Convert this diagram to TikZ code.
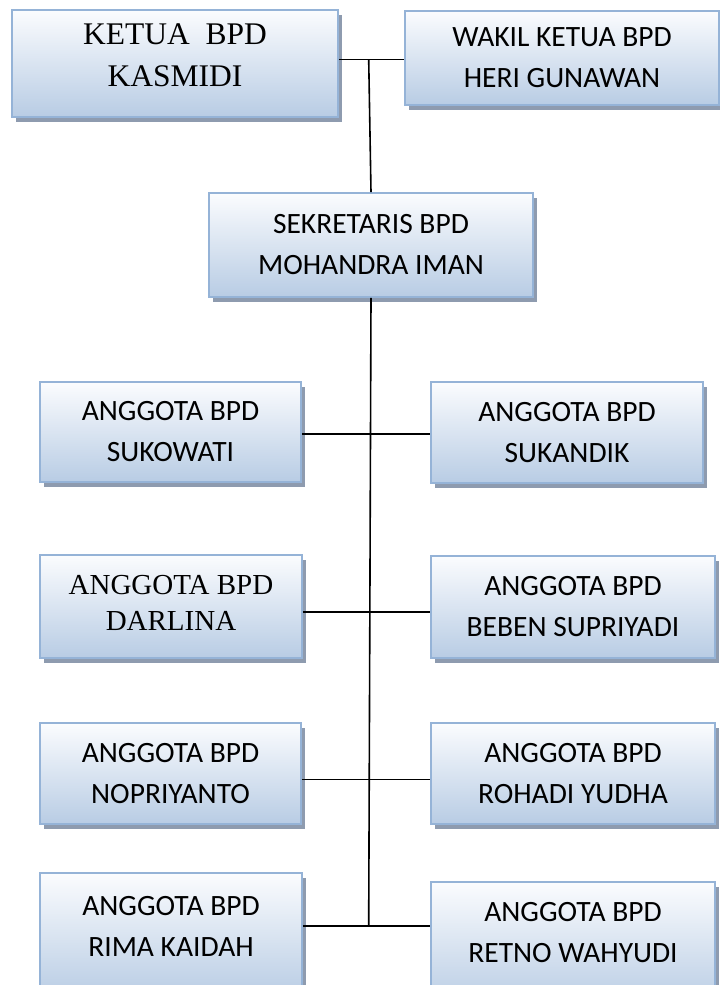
\documentclass[tikz,border=0pt]{standalone}
\usepackage{fontspec}
\usetikzlibrary{shadows}
\newfontfamily\bodyfont{Carlito}
\newfontfamily\titlefont{Liberation Serif}
\definecolor{boxtop}{RGB}{251,252,254}
\definecolor{boxbottom}{RGB}{184,204,228}
\definecolor{boxline}{RGB}{149,179,215}
\definecolor{boxshadow}{RGB}{142,155,175}
\tikzstyle{box}=[rectangle, draw=boxline, line width=1.8pt, inner sep=0pt, align=center,
  top color=boxtop, bottom color=boxbottom,
  general shadow={fill=boxshadow, shadow xshift=3.5pt, shadow yshift=-5pt},
  font=\bodyfont\fontsize{29.5}{41}\selectfont]
\tikzstyle{serif}=[font=\titlefont\fontsize{31.5}{42}\selectfont]
\tikzstyle{link}=[line width=1.6pt]

\begin{document}
\begin{tikzpicture}[x=1pt,y=-1pt]
  \useasboundingbox (0,0) rectangle (720,985);
  \clip (0,0) rectangle (720,985);
  \draw (175,63.5) node[box,serif,minimum width=326pt,minimum height=107pt,text depth=16pt] (ketua) {KETUA\ \ BPD\\KASMIDI};
  \draw (562,58) node[box,minimum width=314pt,minimum height=94pt] (wakil) {WAKIL KETUA BPD\\HERI GUNAWAN};
  \draw (371,245) node[box,minimum width=324pt,minimum height=104pt] (sekretaris) {SEKRETARIS BPD\\MOHANDRA IMAN};

  \draw (170.5,432) node[box,minimum width=261pt,minimum height=100pt] (sukowati) {ANGGOTA BPD\\SUKOWATI};
  \draw (567,432.5) node[box,minimum width=272pt,minimum height=101pt] (sukandik) {ANGGOTA BPD\\SUKANDIK};

  \draw (171,606.5) node[box,serif,font=\titlefont\fontsize{29}{36}\selectfont,minimum width=262pt,minimum height=103pt,text depth=8pt] (darlina) {ANGGOTA BPD\\DARLINA};
  \draw (573,607) node[box,minimum width=284pt,minimum height=102pt] (beben) {ANGGOTA BPD\\BEBEN SUPRIYADI};

  \draw (170.5,773.5) node[box,minimum width=261pt,minimum height=101pt] (nopriyanto) {ANGGOTA BPD\\NOPRIYANTO};
  \draw (573,773.5) node[box,minimum width=284pt,minimum height=101pt] (rohadi) {ANGGOTA BPD\\ROHADI YUDHA};

  \draw (171,935.5) node[box,minimum width=262pt,minimum height=125pt,text depth=18pt] (rima) {ANGGOTA BPD\\RIMA KAIDAH};
  \draw (573,944.5) node[box,minimum width=284pt,minimum height=125pt,text depth=25pt] (retno) {ANGGOTA BPD\\RETNO WAHYUDI};

  %% Spine
  \coordinate (top) at (368.7,59.3);
  \coordinate (row1) at (368.7,433.7);
  \coordinate (row2) at (368.7,611.7);
  \coordinate (row3) at (368.7,779.3);
  \coordinate (row4) at (368.7,925.7);
  \draw[link] (ketua.east |- top) -- (wakil.west |- top);
  \draw[link] (top) -- (sekretaris.north);
  \draw[link] (sekretaris.south) -- (row4);

  %% Members
  \draw[link] (sukowati.east |- row1) -- (sukandik.west |- row1);
  \draw[link] (darlina.east |- row2) -- (beben.west |- row2);
  \draw[link] (nopriyanto.east |- row3) -- (rohadi.west |- row3);
  \draw[link] (rima.east |- row4) -- (retno.west |- row4);
\end{tikzpicture}
\end{document}
